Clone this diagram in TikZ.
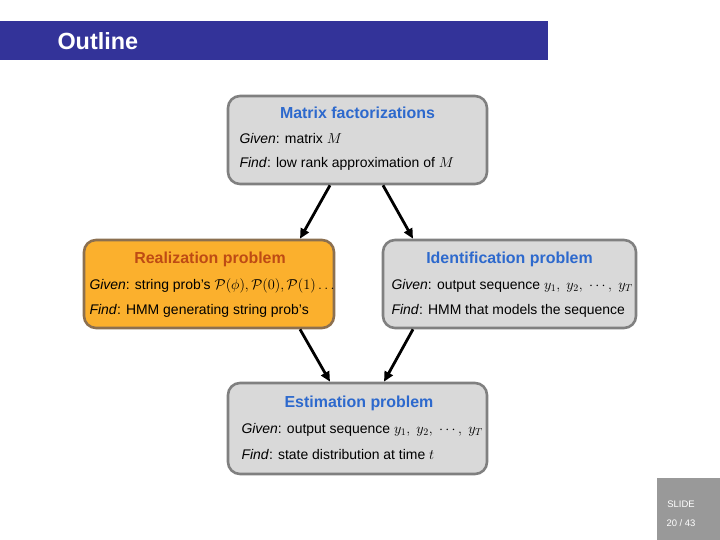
\documentclass[tikz,border=0pt]{standalone}
\usepackage{fontspec}
\setmainfont{Liberation Sans}
\usetikzlibrary{arrows.meta}

\definecolor{barblue}{RGB}{51,51,153}
\definecolor{ttlblue}{RGB}{45,105,205}
\definecolor{ttlred}{RGB}{190,75,20}
\definecolor{boxgray}{RGB}{217,217,217}
\definecolor{edgegray}{RGB}{128,128,128}
\definecolor{boxorange}{RGB}{251,176,45}
\definecolor{edgebrown}{RGB}{140,112,80}
\definecolor{slidegray}{RGB}{153,153,153}

\tikzset{
  box/.style={draw=edgegray, fill=boxgray, line width=2.6bp, rounded corners=12bp,
    minimum width=259bp, minimum height=88bp, inner sep=0pt},
  obox/.style={box, draw=edgebrown, fill=boxorange},
  ttl/.style={ttlblue, font=\fontsize{16}{18}\selectfont\bfseries},
  line/.style={anchor=west, font=\fontsize{14}{16}\selectfont},
  arr/.style={line width=2.8bp, -{Triangle[length=10bp,width=9bp]}}
}

\begin{document}
\begin{tikzpicture}[x=1bp, y=-1bp]
  \useasboundingbox (0,0) rectangle (720,540);

  % title bar
  \fill[barblue] (0,21) rectangle (548,60);
  \node[white, anchor=west, font=\fontsize{23.5}{26}\selectfont\bfseries] (hdr) at (54,41) {Outline};

  % Matrix factorizations
  \node[box] (mf) at (357.5,140) {};
  \node[ttl] (mft) at (357.5,113) {Matrix factorizations};
  \node[line] (mfg) at (236,139) {\textit{Given}: matrix $M$};
  \node[line] (mff) at (236,164) {\textit{Find}: low rank approximation of $M$};

  % Realization problem
  \node[obox, minimum width=250bp] (rp) at (209,284) {};
  \node[ttl, ttlred] (rpt) at (210,259) {Realization problem};
  \node[line] (rpg) at (86,286) {\textit{Given}: string prob's $\mathcal{P}(\phi),\mathcal{P}(0),\mathcal{P}(1)\dots$};
  \node[line] (rpf) at (86,311) {\textit{Find}: HMM generating string prob's};

  % Identification problem
  \node[box, minimum width=253bp] (ip) at (509.5,284) {};
  \node[ttl] (ipt) at (509.5,259) {Identification problem};
  \node[line] (ipg) at (388,286) {\textit{Given}: output sequence $y_1,\ y_2,\ \cdots,\ y_T$};
  \node[line] (ipf) at (388,311) {\textit{Find}: HMM that models the sequence};

  % Estimation problem
  \node[box, minimum height=91bp] (ep) at (357.5,428.5) {};
  \node[ttl] (ept) at (359,403) {Estimation problem};
  \node[line] (epg) at (238,430) {\textit{Given}: output sequence $y_1,\ y_2,\ \cdots,\ y_T$};
  \node[line] (epf) at (238,455) {\textit{Find}: state distribution at time $t$};

  % arrows
  \draw[arr] ([xshift=-27.5bp]mf.south) -- ([xshift=91bp]rp.north);
  \draw[arr] ([xshift=25.5bp]mf.south) -- ([xshift=-96.5bp]ip.north);
  \draw[arr] ([xshift=91bp]rp.south) -- ([xshift=-27.5bp]ep.north);
  \draw[arr] ([xshift=-96.5bp]ip.south) -- ([xshift=26.5bp]ep.north);

  % slide counter
  \fill[slidegray] (657,478) rectangle (720,540);
  \node[white, font=\fontsize{9.5}{11}\selectfont] (sl) at (681,504) {SLIDE};
  \node[white, font=\fontsize{9.5}{11}\selectfont] (pg) at (681,523) {20 / 43};
\end{tikzpicture}
\end{document}
